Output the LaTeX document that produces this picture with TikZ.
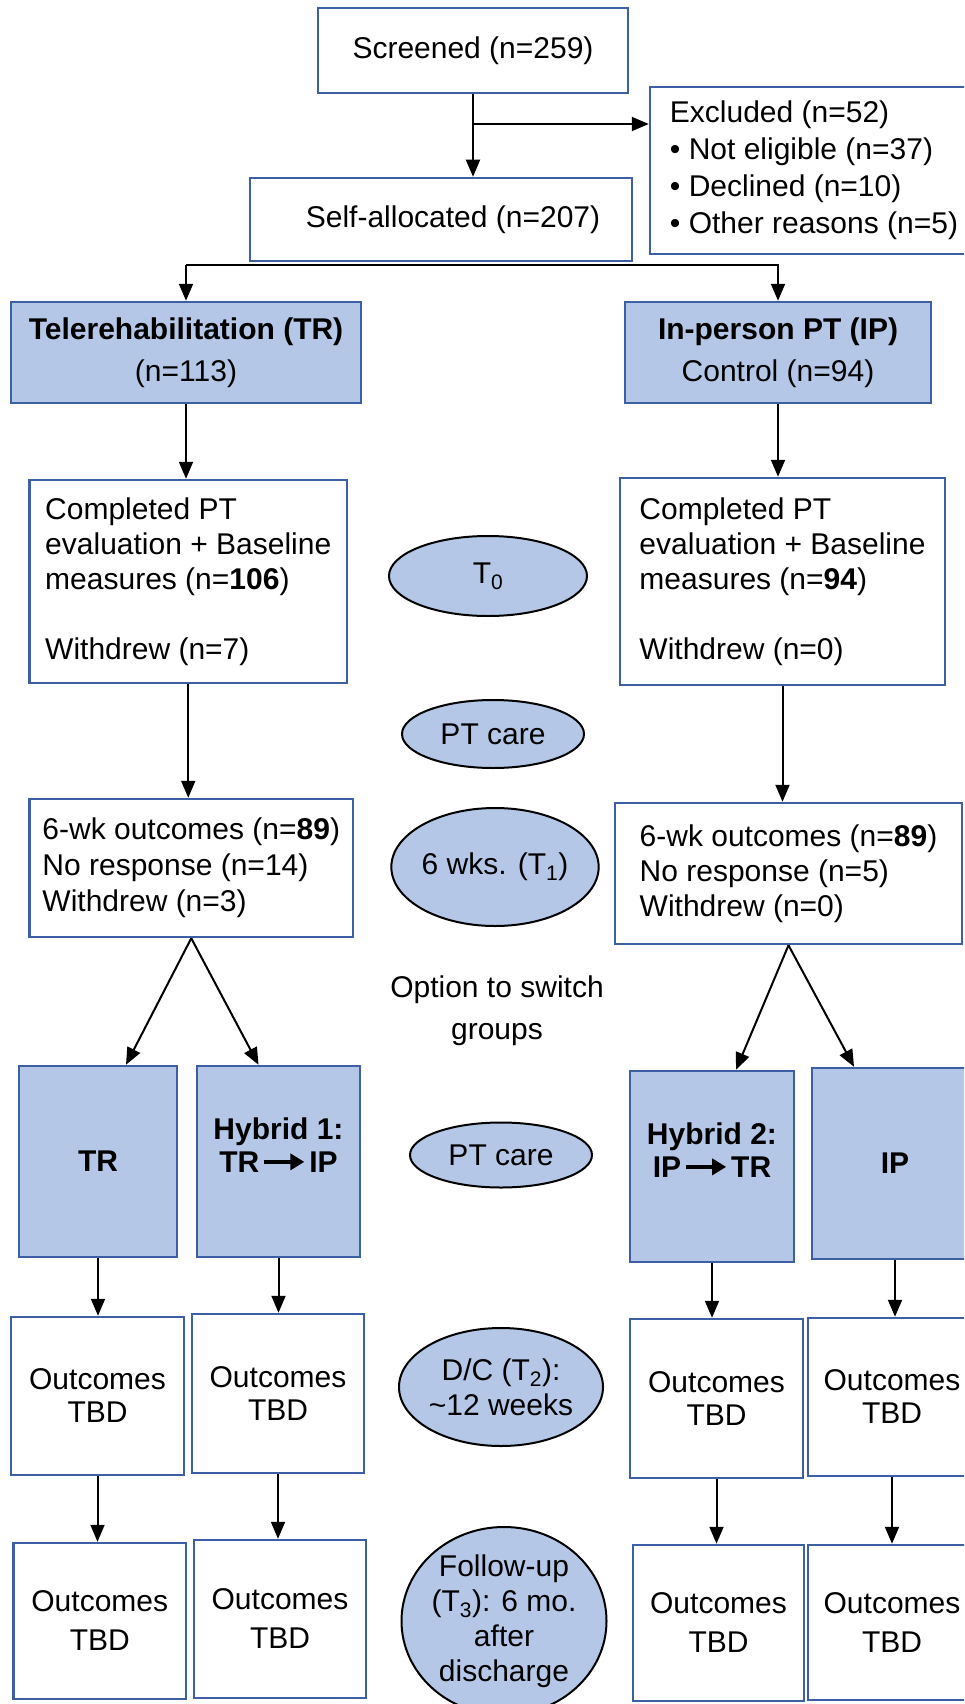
\documentclass[tikz,border=0pt]{standalone}
\usepackage{fontspec}
\setmainfont{Liberation Sans}
\usetikzlibrary{shapes.geometric,arrows.meta,calc}
\definecolor{fillb}{HTML}{B4C7E7}
\definecolor{bord}{HTML}{3C5FA5}
\newcommand{\fatarr}{\hspace{3pt}\tikz[baseline=-10.5pt]\draw[line width=4pt,-{Triangle[length=14pt,width=16pt]}] (0pt,0pt) -- (40pt,0pt);\hspace{3pt}}
\tikzset{
 bx/.style={draw=bord, line width=2.5pt, inner sep=0pt, fill=white, align=center, font=\fontsize{30}{35}\selectfont},
 bbx/.style={bx, fill=fillb},
 ell/.style={ellipse, draw=black, line width=2pt, fill=fillb, inner sep=0pt, align=center, font=\fontsize{30}{35}\selectfont},
 arr/.style={draw=black, line width=2pt, -{Triangle[length=17pt,width=14pt]}},
 txt/.style={align=center, inner sep=0pt, font=\fontsize{30}{42}\selectfont},
}
\begin{document}
\begin{tikzpicture}[x=1pt,y=-1pt]
\useasboundingbox (0,0) rectangle (964,1704);
\clip (0,0) rectangle (964,1704);
% top
\node[bx, minimum width=310pt, minimum height=85pt] (scr) at (473,50.5) {Screened (n=259)};
\node[bx, align=left, minimum width=328pt, minimum height=167pt, font=\fontsize{30}{37}\selectfont] (ex) at (814,170.5) {Excluded (n=52)\\• Not eligible (n=37)\\• Declined (n=10)\\• Other reasons (n=5)};
\node[bx, minimum width=382pt, minimum height=83pt] (sa) at (441,219.5) {\hspace*{24pt}Self-allocated (n=207)};
\node[bbx, minimum width=350pt, minimum height=101pt, font=\fontsize{30}{42}\selectfont] (tr) at (186,352.5) {\textbf{Telerehabilitation (TR)}\\(n=113)};
\node[bbx, minimum width=306pt, minimum height=101pt, font=\fontsize{30}{42}\selectfont] (ip) at (778,352.5) {\textbf{In-person PT (IP)}\\Control (n=94)};
% baseline
\node[bx, align=left, minimum width=317.5pt, minimum height=203pt] (cl) at (188.25,581.5) {Completed PT\\evaluation + Baseline\\measures (n=\textbf{106})\\[35pt]Withdrew (n=7)};
\node[bx, align=left, minimum width=325pt, minimum height=207pt] (cr) at (782.5,581.5) {Completed PT\\evaluation + Baseline\\measures (n=\textbf{94})\\[35pt]Withdrew (n=0)};
\node[bx, align=left, minimum width=323.5pt, minimum height=138pt, font=\fontsize{30}{36}\selectfont] (wl) at (191.25,868) {6-wk outcomes (n=\textbf{89})\\No response (n=14)\\Withdrew (n=3)};
\node[bx, align=left, minimum width=347pt, minimum height=141pt, font=\fontsize{30}{35}\selectfont] (wr) at (788.5,873.5) {6-wk outcomes (n=\textbf{89})\\No response (n=5)\\Withdrew (n=0)};
% middle ellipses
\node[ell, minimum width=198pt, minimum height=80pt] (e0) at (488,576) {T\textsubscript{0}};
\node[ell, minimum width=182pt, minimum height=68pt] (e1) at (493,734) {PT care};
\node[ell, minimum width=184pt, minimum height=118pt] (e2) at (495,867) {6 wks. (T\textsubscript{1})};
\node[txt] (opt) at (497,1011) {Option to switch\\groups};
\node[ell, minimum width=182pt, minimum height=65pt] (e3) at (501,1155) {PT care};
\node[ell, minimum width=189pt, minimum height=118pt] (e4) at (501,1387) {D/C (T\textsubscript{2}):\\\textasciitilde12 weeks};
\node[ell, minimum width=200pt, minimum height=184pt] (e5) at (504,1621) {Follow-up\\(T\textsubscript{3}): 6 mo.\\after\\discharge};
% group boxes
\node[bbx, minimum width=158pt, minimum height=191pt] (t2) at (98,1161.5) {\textbf{TR}};
\node[bbx, minimum width=163pt, minimum height=191pt, font=\fontsize{30}{33}\selectfont] (h1) at (278.5,1161.5) {\textbf{Hybrid 1:}\\\textbf{TR}\fatarr\textbf{IP}\\\mbox{}};
\node[bbx, minimum width=164pt, minimum height=191pt, font=\fontsize{30}{33}\selectfont] (h2) at (712,1166.5) {\textbf{Hybrid 2:}\\\textbf{IP}\fatarr\textbf{TR}\\\mbox{}};
\node[bbx, minimum width=166pt, minimum height=191pt] (i2) at (895,1163.5) {\textbf{IP}};
% outcomes rows
\node[bx, minimum width=173pt, minimum height=158pt, font=\fontsize{30}{33}\selectfont] (o1) at (97.5,1396) {Outcomes\\TBD};
\node[bx, minimum width=172pt, minimum height=159pt, font=\fontsize{30}{33}\selectfont] (o2) at (278,1393.5) {Outcomes\\TBD};
\node[bx, minimum width=173pt, minimum height=159pt, font=\fontsize{30}{33}\selectfont] (o3) at (716.5,1398.5) {Outcomes\\TBD};
\node[bx, minimum width=168pt, minimum height=158pt, font=\fontsize{30}{33}\selectfont] (o4) at (892,1397) {Outcomes\\TBD};
\node[bx, minimum width=172.5pt, minimum height=156pt, font=\fontsize{30}{39}\selectfont] (f1) at (99.75,1621) {Outcomes\\TBD};
\node[bx, minimum width=172pt, minimum height=158pt, font=\fontsize{30}{39}\selectfont] (f2) at (280,1619) {Outcomes\\TBD};
\node[bx, minimum width=171pt, minimum height=156pt, font=\fontsize{30}{39}\selectfont] (f3) at (718.5,1623) {Outcomes\\TBD};
\node[bx, minimum width=168pt, minimum height=155pt, font=\fontsize{30}{39}\selectfont] (f4) at (892,1622.5) {Outcomes\\TBD};
% connectors
\draw[arr] (scr.south) -- (scr.south |- sa.north);
\coordinate (br) at (473,124);
\draw[arr] (br) -- (br -| ex.west);
\coordinate (sab) at (441,265);
\draw[arr] (sab -| tr.north) -- (tr.north);
\draw[arr, line join=miter] (sab -| tr.north) -- (sab -| ip.north) -- (ip.north);
\draw[arr] (tr.south) -- (tr.south |- cl.north);
\draw[arr] (ip.south) -- (ip.south |- cr.north);
\draw[arr] (cl.south) -- (cl.south |- wl.north);
\draw[arr] (cr.south) -- (cr.south |- wr.north);
\draw[arr] (wl.south) -- ([xshift=28pt]t2.north);
\draw[arr] (wl.south) -- ([xshift=-20pt]h1.north);
\draw[arr] (wr.south) -- ([xshift=24pt]h2.north);
\draw[arr] (wr.south) -- ([xshift=-41pt]i2.north);
\draw[arr] (t2.south) -- (t2.south |- o1.north);
\draw[arr] (h1.south) -- (h1.south |- o2.north);
\draw[arr] (h2.south) -- (h2.south |- o3.north);
\draw[arr] (i2.south) -- (i2.south |- o4.north);
\draw[arr] (o1.south) -- (o1.south |- f1.north);
\draw[arr] (o2.south) -- (o2.south |- f2.north);
\draw[arr] (o3.south) -- (o3.south |- f3.north);
\draw[arr] (o4.south) -- (o4.south |- f4.north);
\end{tikzpicture}
\end{document}
